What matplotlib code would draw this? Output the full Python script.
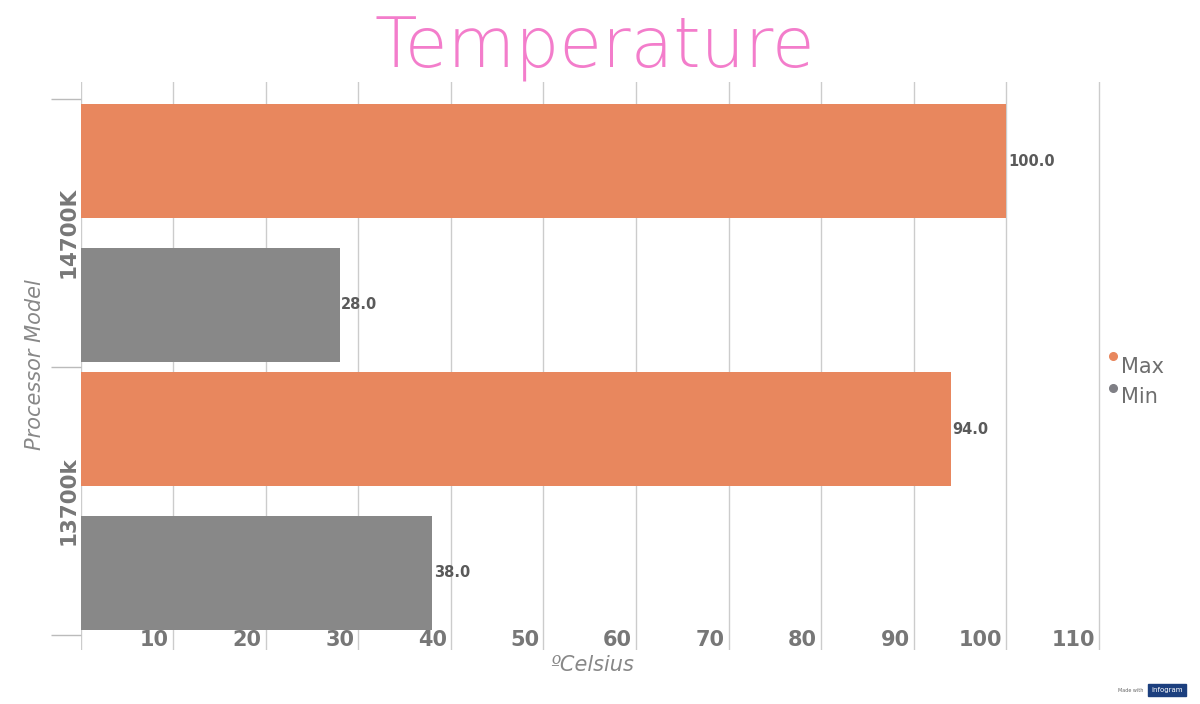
import matplotlib
matplotlib.use("Agg")
import matplotlib.pyplot as plt
from matplotlib.transforms import blended_transform_factory
from matplotlib.patches import Rectangle

# ---- data ----
categories = ["13700k", "14700K"]          # bottom to top
max_values = [94.0, 100.0]
min_values = [38.0, 28.0]
x_ticks = [10, 20, 30, 40, 50, 60, 70, 80, 90, 100, 110]
series_names = ["Max", "Min"]
title = "Temperature"
x_label = "\u00baCelsius"
y_label = "Processor Model"

ORANGE = "#E8875E"
GRAY = "#888888"
PINK = "#F37DCB"
GRID = "#CCCCCC"
TXT = "#777777"

W, H = 1200, 704
fig = plt.figure(figsize=(W / 100, H / 100), dpi=100)
fig.patch.set_facecolor("white")

def fx(px):
    return px / W

def fy(py):
    return 1 - py / H

left, right, top, bottom = 80.5, 1117.6, 82, 650
ax = fig.add_axes([fx(left), fy(bottom), (right - left) / W, (bottom - top) / H])
ax.set_xlim(0, 112)
ax.set_ylim(-0.556, 1.563)
for s in ax.spines.values():
    s.set_visible(False)

# grid
for v in [0] + x_ticks:
    ax.axvline(v, color=GRID, lw=1, zorder=0)

# bars
ypos = list(range(len(categories)))
off, hgt = 0.268, 0.425
ax.barh([y + off for y in ypos], max_values, height=hgt, color=ORANGE, zorder=2)
ax.barh([y - off for y in ypos], min_values, height=hgt, color=GRAY, zorder=2)

for y, v in zip(ypos, max_values):
    ax.text(v + 0.15, y + off, f"{v:.1f}", ha="left", va="center",
            fontsize=10.5, color="#5A5A5A", fontweight="bold", zorder=3)
for y, v in zip(ypos, min_values):
    ax.text(v + 0.15, y - off, f"{v:.1f}", ha="left", va="center",
            fontsize=10.5, color="#5A5A5A", fontweight="bold", zorder=3)

# y ticks at band edges
ax.set_yticks([-0.5, 0.5, 1.5])
ax.set_yticklabels([])
ax.tick_params(axis="y", length=21.6, width=1, color="#BBBBBB")
ax.set_xticks([])

# x tick labels inside
tr = blended_transform_factory(ax.transData, ax.transAxes)
for v in x_ticks:
    ax.text(v - 0.45, (bottom - 640) / (bottom - top), str(v), transform=tr,
            ha="right", va="center", fontsize=15, color=TXT, fontweight="semibold")

# category labels
for y, c in zip(ypos, categories):
    ax.text(-1.25, y, c, transform=blended_transform_factory(ax.transData, ax.transData),
            rotation=90, ha="center", va="center", fontsize=15.5,
            color=TXT, fontweight="bold")

# axis titles
fig.text(fx(35), fy(365), y_label, rotation=90, ha="center", va="center",
         fontsize=15, color="#888888", fontstyle="italic", fontweight="light")
fig.text(fx(592), fy(665), x_label, ha="center", va="center",
         fontsize=15, color="#888888", fontstyle="italic", fontweight="light")

# title
fig.text(fx(595), fy(68), title, ha="center", va="baseline",
         fontsize=50, color=PINK, family="DejaVu Sans", fontweight="light")

# legend
for name, col, dy, ty in [(series_names[0], ORANGE, 356, 367), (series_names[1], "#7F7F85", 388, 397)]:
    ax.plot([fx(1113)], [fy(dy)], "o", ms=5.5, color=col, transform=fig.transFigure,
            clip_on=False)
    fig.text(fx(1121), fy(ty), name, ha="left", va="center", fontsize=15,
             color="#6E6E6E", fontweight="medium")

# made with infogram
fig.text(fx(1143), fy(690), "Made with", ha="right", va="center", fontsize=3.5, color="#666666")
fig.patches.append(Rectangle((fx(1148), fy(696)), fx(38), 12 / H, transform=fig.transFigure,
                             color="#1C3F7E", figure=fig))
fig.text(fx(1167), fy(690), "infogram", ha="center", va="center", fontsize=5, color="white")

fig.savefig("out.png", dpi=100)
